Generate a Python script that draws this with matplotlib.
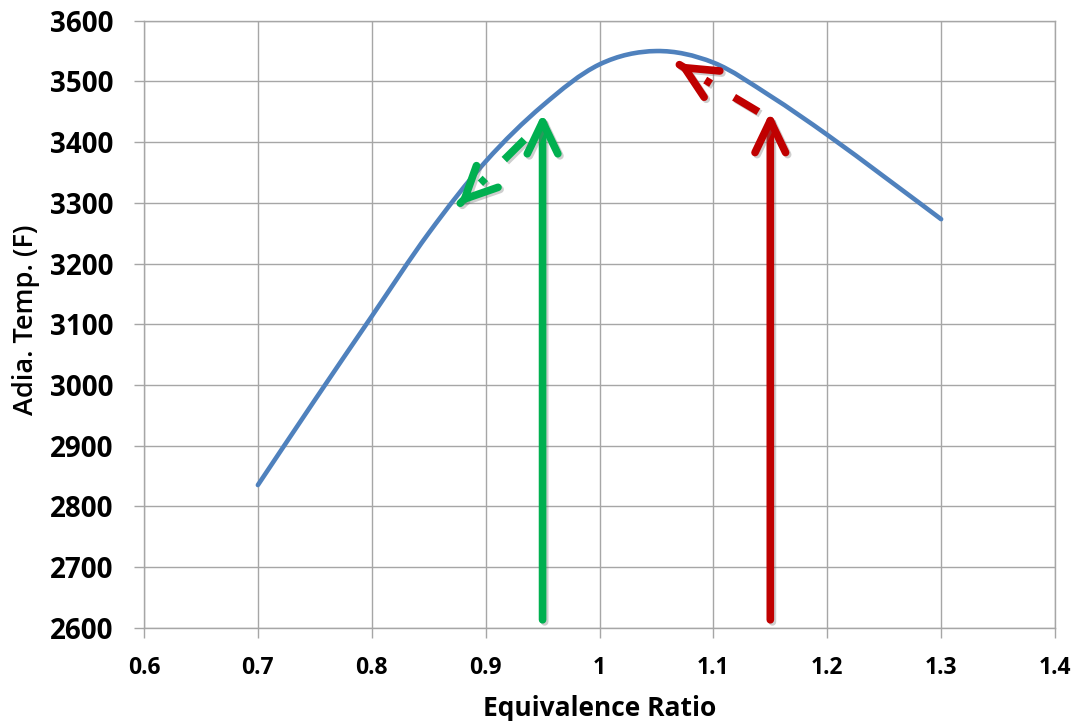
import numpy as np
import matplotlib
matplotlib.use('Agg')
import matplotlib.pyplot as plt
from matplotlib.path import Path
from matplotlib.patches import PathPatch
from matplotlib import patheffects as pe
from matplotlib import font_manager as fm

# ---------------- data ----------------
phi = [0.70, 0.75, 0.80, 0.85, 0.90, 0.95, 1.00, 1.05, 1.10, 1.15, 1.20, 1.25, 1.30]
temp = [2835, 2975, 3113, 3250, 3368, 3460, 3528, 3550, 3531, 3476, 3412, 3343, 3273]

x_ticks = [0.6, 0.7, 0.8, 0.9, 1.0, 1.1, 1.2, 1.3, 1.4]
x_tick_labels = ['0.6', '0.7', '0.8', '0.9', '1', '1.1', '1.2', '1.3', '1.4']
y_ticks = [2600, 2700, 2800, 2900, 3000, 3100, 3200, 3300, 3400, 3500, 3600]

green_up_x = 0.95
green_up_y = [2613, 3448]
red_up_x = 1.15
red_up_y = [2613, 3450]
green_dash_start = [0.934, 3404]
green_dash_tip = [0.876, 3296]
red_dash_start = [1.1395, 3450]
red_dash_tip = [1.068, 3530]

x_label = 'Equivalence Ratio'
y_label = 'Adia. Temp. (F)'

# ---------------- style ----------------
avail = {f.name for f in fm.fontManager.ttflist}
fam = 'Open Sans' if 'Open Sans' in avail else 'DejaVu Sans'
plt.rcParams['font.family'] = [fam, 'DejaVu Sans']

BLUE = '#4F81BD'
GREEN = '#00B050'
RED = '#C00000'
GRID = '#A6A6A6'

fig = plt.figure(figsize=(10.72, 7.21), dpi=100)
ax = fig.add_axes([144 / 1072, 1 - 627.7 / 721, (1055 - 144) / 1072, (627.7 - 20.7) / 721])

ax.set_xlim(0.6, 1.4)
ax.set_ylim(2600, 3600)
ax.set_xticks(x_ticks)
ax.set_xticklabels(x_tick_labels)
ax.set_yticks(y_ticks)
ax.grid(True, color=GRID, lw=1.0)
ax.set_axisbelow(True)
for s in ax.spines.values():
    s.set_color(GRID)
    s.set_linewidth(1.0)
ax.tick_params(axis='both', direction='out', length=7, width=1, color=GRID)
ax.tick_params(axis='y', pad=15, labelsize=20)
ax.tick_params(axis='x', pad=13.5, labelsize=16.5)
for lab in ax.get_xticklabels() + ax.get_yticklabels():
    lab.set_fontweight('bold')

ax.set_xlabel(x_label, fontsize=19, fontweight='bold')
ax.set_ylabel(y_label, fontsize=19.5, fontweight='semibold')
ax.xaxis.set_label_coords(0.5, (627.7 - 695) / 607)
ax.yaxis.set_label_coords((40 - 144) / 911, (627.7 - 320) / 607)

# ---------------- smooth curve (Catmull-Rom -> Bezier through data points) -------
P = np.column_stack([phi, temp]).astype(float)
verts = [P[0]]
codes = [Path.MOVETO]
n = len(P)
for i in range(n - 1):
    p0 = P[i - 1] if i > 0 else P[i]
    p1 = P[i]
    p2 = P[i + 1]
    p3 = P[i + 2] if i + 2 < n else P[i + 1]
    c1 = p1 + (p2 - p0) / 6.0
    c2 = p2 - (p3 - p1) / 6.0
    verts += [c1, c2, p2]
    codes += [Path.CURVE4] * 3
curve = PathPatch(Path(verts, codes), facecolor='none', edgecolor=BLUE, lw=3.3,
                  capstyle='round', joinstyle='round', zorder=3)
ax.add_patch(curve)

shadow = [pe.SimpleLineShadow(offset=(1.5, -1.5), shadow_color='0.45', alpha=0.35), pe.Normal()]
LW = 5.5


def up_arrow(x, ys, color):
    ax.annotate('', xy=(x, ys[1]), xytext=(x, ys[0]),
                arrowprops=dict(arrowstyle='->,head_length=2.3,head_width=1.1',
                                mutation_scale=10, lw=LW, color=color,
                                shrinkA=0, shrinkB=0, path_effects=shadow),
                zorder=5)


def dashed_arrow(start, tip, color):
    ax.plot([start[0], tip[0]], [start[1], tip[1]], color=color, lw=LW,
            dashes=(3.7, 3.5, 0.9, 80), dash_capstyle='butt', zorder=5,
            path_effects=shadow)
    near = (tip[0] + 0.03 * (start[0] - tip[0]), tip[1] + 0.03 * (start[1] - tip[1]))
    ax.annotate('', xy=tuple(tip), xytext=near,
                arrowprops=dict(arrowstyle='->,head_length=2.3,head_width=1.1',
                                mutation_scale=10, lw=LW, color=color,
                                shrinkA=0, shrinkB=0, path_effects=shadow),
                zorder=5)


up_arrow(green_up_x, green_up_y, GREEN)
up_arrow(red_up_x, red_up_y, RED)
dashed_arrow(green_dash_start, green_dash_tip, GREEN)
dashed_arrow(red_dash_start, red_dash_tip, RED)

fig.savefig('out.png', dpi=100)
